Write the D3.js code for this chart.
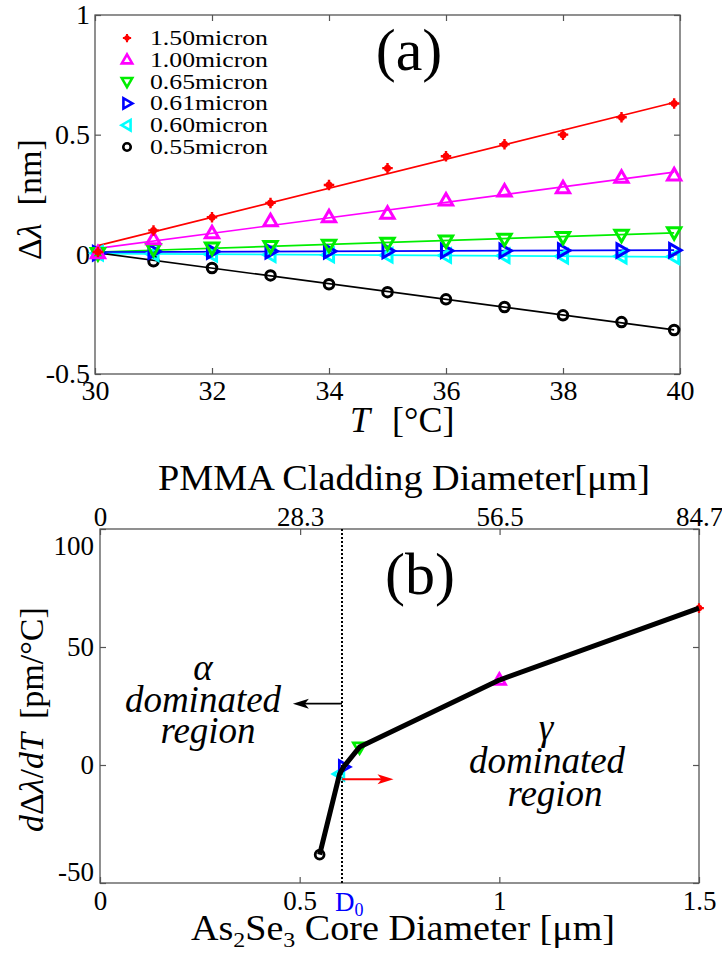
<!DOCTYPE html>
<html>
<head>
<meta charset="utf-8">
<script src="https://cdn.jsdelivr.net/npm/d3@7"></script>
<style>
  html, body { margin: 0; padding: 0; background: #fff; }
  svg { display: block; }
</style>
</head>
<body>
<div id="chart"></div>
<script>
// ---------------- Data: panel (a) ----------------
const temperature = [30.05, 31, 32, 33, 34, 35, 36, 37, 38, 39, 39.9];
const shift150 = [0.01, 0.10, 0.155, 0.215, 0.29, 0.36, 0.41, 0.46, 0.50, 0.573, 0.63];
const shift100 = [0.005, 0.063, 0.088, 0.138, 0.155, 0.17, 0.225, 0.263, 0.276, 0.32, 0.33];
const shift065 = [0.005, 0.022, 0.028, 0.035, 0.04, 0.048, 0.058, 0.065, 0.072, 0.082, 0.092];
const shift061 = [0.005, 0.012, 0.012, 0.013, 0.013, 0.014, 0.015, 0.015, 0.016, 0.016, 0.017];
const shift060 = [0.005, 0.002, 0.0, -0.002, -0.003, -0.004, -0.005, -0.006, -0.008, -0.008, -0.01];
const shift055 = [0.01, -0.029, -0.057, -0.088, -0.125, -0.158, -0.188, -0.22, -0.255, -0.283, -0.316];
const legendLabels = ["1.50micron", "1.00micron", "0.65micron", "0.61micron", "0.60micron", "0.55micron"];
const seriesColors = ["#ff0000", "#ff00ff", "#00ee00", "#0000ff", "#00ffff", "#000000"];
const seriesMarkers = ["star", "up", "down", "right", "left", "circle"];
const aTicksX = [30, 32, 34, 36, 38, 40];
const aTicksY = [-0.5, 0, 0.5, 1];

// ---------------- Data: panel (b) ----------------
const coreDiameter = [0.55, 0.60, 0.61, 0.65, 1.00, 1.50];
const sensitivity = [-38, -3.8, -0.8, 7.6, 36, 66.5];
const pointColors = ["#000000", "#00ffff", "#0000ff", "#00ee00", "#ff00ff", "#ff0000"];
const pointMarkers = ["circle", "left", "right", "down", "up", "star"];
const bTicksX = [0, 0.5, 1, 1.5];
const bTicksY = [-50, 0, 50, 100];
const claddingTicks = [0, 28.3, 56.5, 84.7];
const D0 = 0.606;
const alphaArrow = {y: 26, x0: D0, x1: 0.483};
const gammaArrow = {y: -6, x0: D0, x1: 0.735};

// ---------------- Setup ----------------
const W = 722, H = 953;
const FONT = "Liberation Serif";
const svg = d3.select("#chart").append("svg").attr("width", W).attr("height", H)
  .style("font-family", FONT);
const AXC = "#555";

function markerPath(type, r) {
  const s = r;
  switch (type) {
    case "up":    return `M0,${-s} L${s*0.95},${s*0.65} L${-s*0.95},${s*0.65}Z`;
    case "down":  return `M0,${s} L${s*0.95},${-s*0.65} L${-s*0.95},${-s*0.65}Z`;
    case "right": return `M${s},0 L${-s*0.65},${s*0.95} L${-s*0.65},${-s*0.95}Z`;
    case "left":  return `M${-s},0 L${s*0.65},${s*0.95} L${s*0.65},${-s*0.95}Z`;
  }
  return null;
}
function drawMarker(g, type, color, x, y, r, sw) {
  if (type === "circle") {
    g.append("circle").attr("cx", x).attr("cy", y).attr("r", r*0.68)
      .attr("fill", "none").attr("stroke", color).attr("stroke-width", sw);
  } else if (type === "star") {
    g.append("circle").attr("cx", x).attr("cy", y).attr("r", r*0.5).attr("fill", color);
    g.append("path").attr("d", `M${x-r*0.75},${y} H${x+r*0.75} M${x},${y-r*0.75} V${y+r*0.75}`)
      .attr("stroke", color).attr("stroke-width", sw*0.8);
  } else {
    g.append("path").attr("transform", `translate(${x},${y})`).attr("d", markerPath(type, r))
      .attr("fill", "none").attr("stroke", color).attr("stroke-width", sw)
      .attr("stroke-linejoin", "miter");
  }
}
function txt(g) { return g.append("text").style("font-family", FONT).attr("fill", "#000"); }

// ================= Panel (a) =================
const xa = d3.scaleLinear().domain([30, 40]).range([95, 680]);
const ya = d3.scaleLinear().domain([-0.5, 1]).range([374, 15]);
const ga = svg.append("g");

const fmtA = d => d === -0.5 ? "-0.5" : String(d);
function styleAxis(sel, fs) {
  sel.attr("font-family", null).style("font-family", FONT);
  sel.select(".domain").remove();
  sel.selectAll(".tick line").attr("stroke", AXC).attr("stroke-width", 1.2);
  sel.selectAll(".tick text").attr("font-size", fs).style("font-family", FONT).attr("fill", "#000");
}
ga.append("g").attr("transform", "translate(0,374)")
  .call(d3.axisBottom(xa).tickValues(aTicksX).tickSizeInner(-6).tickSizeOuter(0).tickPadding(6).tickFormat(d3.format("d")))
  .call(s => styleAxis(s, 28));
ga.append("g").attr("transform", "translate(0,15)")
  .call(d3.axisTop(xa).tickValues(aTicksX).tickSizeInner(-6).tickSizeOuter(0).tickFormat(""))
  .call(s => styleAxis(s, 28));
ga.append("g").attr("transform", "translate(95,0)")
  .call(d3.axisLeft(ya).tickValues(aTicksY).tickSizeInner(-6).tickSizeOuter(0).tickPadding(5).tickFormat(fmtA))
  .call(s => styleAxis(s, 28));
ga.append("g").attr("transform", "translate(680,0)")
  .call(d3.axisRight(ya).tickValues(aTicksY).tickSizeInner(-6).tickSizeOuter(0).tickFormat(""))
  .call(s => styleAxis(s, 28));
ga.append("rect").attr("x", 95).attr("y", 15).attr("width", 585).attr("height", 359)
  .attr("fill", "none").attr("stroke", AXC).attr("stroke-width", 1.3);

const seriesA = [shift150, shift100, shift065, shift061, shift060, shift055];
seriesA.forEach((vals, i) => {
  const n = vals.length;
  const mx = d3.mean(temperature), my = d3.mean(vals);
  let sxy = 0, sxx = 0;
  for (let k = 0; k < n; k++) { sxy += (temperature[k]-mx)*(vals[k]-my); sxx += (temperature[k]-mx)**2; }
  const b = sxy / sxx, a = my - b*mx;
  const t0 = temperature[0], t1 = temperature[n-1];
  ga.append("line").attr("x1", xa(t0)).attr("y1", ya(a + b*t0)).attr("x2", xa(t1)).attr("y2", ya(a + b*t1))
    .attr("stroke", seriesColors[i]).attr("stroke-width", 1.7);
});
for (let i = seriesA.length - 1; i >= 0; i--) {
  seriesA[i].forEach((v, k) => drawMarker(ga, seriesMarkers[i], seriesColors[i], xa(temperature[k]), ya(v), 7, 3));
}
const leg = ga.append("g");
legendLabels.forEach((lab, i) => {
  const cy = 38 + i*21.8;
  drawMarker(leg, seriesMarkers[i], seriesColors[i], 127, cy, 5.5, 2.6);
  txt(leg).attr("x", 150).attr("y", cy + 7).attr("font-size", 22)
    .attr("textLength", 118).attr("lengthAdjust", "spacingAndGlyphs").text(lab);
});
txt(ga).attr("x", 409).attr("y", 70).attr("text-anchor", "middle").attr("font-size", 60).text("(a)");
txt(ga).attr("x", 350).attr("y", 432).attr("font-size", 36)
  .call(t => { t.append("tspan").attr("font-style", "italic").text("T");
               t.append("tspan").attr("dx", 22).text("[°C]"); });
txt(ga).attr("transform", "translate(41,260) rotate(-90)").attr("font-size", 34)
  .call(t => { t.append("tspan").text("Δ");
               t.append("tspan").attr("font-style", "italic").text("λ");
               t.append("tspan").attr("dx", 18).text("[nm]"); });

// ================= Panel (b) =================
const xb = d3.scaleLinear().domain([0, 1.5]).range([100, 699]);
const xbTop = d3.scaleLinear().domain([0, 84.7]).range([100, 699]);
const yb = d3.scaleLinear().domain([-50, 100]).range([883, 529]);
const gb = svg.append("g");

gb.append("g").attr("transform", "translate(0,883)")
  .call(d3.axisBottom(xb).tickValues(bTicksX).tickSizeInner(-6).tickSizeOuter(0).tickPadding(8).tickFormat(d => String(d)))
  .call(s => styleAxis(s, 27));
gb.append("g").attr("transform", "translate(0,529)")
  .call(d3.axisTop(xbTop).tickValues(claddingTicks).tickSizeInner(-6).tickSizeOuter(0).tickPadding(3).tickFormat(d => String(d)))
  .call(s => styleAxis(s, 27));
const yAxB = gb.append("g").attr("transform", "translate(100,0)")
  .call(d3.axisLeft(yb).tickValues(bTicksY).tickSizeInner(-6).tickSizeOuter(0).tickPadding(6).tickFormat(d => String(d)))
  .call(s => styleAxis(s, 27));
yAxB.selectAll(".tick text").filter(d => d === 100).attr("dy", "0.95em");
yAxB.selectAll(".tick text").filter(d => d === -50).attr("dy", "-0.08em");
gb.append("g").attr("transform", "translate(699,0)")
  .call(d3.axisRight(yb).tickValues(bTicksY).tickSizeInner(-6).tickSizeOuter(0).tickFormat(""))
  .call(s => styleAxis(s, 27));
gb.append("rect").attr("x", 100).attr("y", 529).attr("width", 599).attr("height", 354)
  .attr("fill", "none").attr("stroke", AXC).attr("stroke-width", 1.3);

gb.append("line").attr("x1", xb(D0)).attr("x2", xb(D0)).attr("y1", yb(100)).attr("y2", yb(-50))
  .attr("stroke", "#000").attr("stroke-width", 2).attr("stroke-dasharray", "2,2");
coreDiameter.forEach((d, i) => drawMarker(gb, pointMarkers[i], pointColors[i], xb(d), yb(sensitivity[i]), 6.5, 2.8));
gb.append("path").datum(coreDiameter.map((d, i) => [d, sensitivity[i]]))
  .attr("d", d3.line().x(p => xb(p[0])).y(p => yb(p[1])))
  .attr("fill", "none").attr("stroke", "#000").attr("stroke-width", 5).attr("stroke-linejoin", "round");
function arrow(g, x0, x1, y, color, sw) {
  const dir = Math.sign(x1 - x0);
  g.append("line").attr("x1", x0).attr("x2", x1 - dir*10).attr("y1", y).attr("y2", y)
    .attr("stroke", color).attr("stroke-width", sw);
  g.append("path").attr("d", `M${x1},${y} L${x1 - dir*16},${y-5} L${x1 - dir*12},${y} L${x1 - dir*16},${y+5}Z`)
    .attr("fill", color);
}
arrow(gb, xb(alphaArrow.x0), xb(alphaArrow.x1), yb(alphaArrow.y), "#000", 1.6);
arrow(gb, xb(gammaArrow.x0), xb(gammaArrow.x1), yb(gammaArrow.y), "#ff0000", 2);

txt(gb).attr("x", 420).attr("y", 594).attr("text-anchor", "middle").attr("font-size", 60).text("(b)");
const annA = gb.append("g").attr("font-style", "italic").attr("text-anchor", "middle").attr("font-size", 37);
txt(annA).attr("x", 203).attr("y", 680).text("α");
txt(annA).attr("x", 203).attr("y", 712).text("dominated");
txt(annA).attr("x", 208).attr("y", 743).text("region");
const annG = gb.append("g").attr("font-style", "italic").attr("text-anchor", "middle").attr("font-size", 37);
txt(annG).attr("x", 546).attr("y", 740).text("γ");
txt(annG).attr("x", 547).attr("y", 773).text("dominated");
txt(annG).attr("x", 555).attr("y", 806).text("region");

txt(gb).attr("x", 335).attr("y", 911).attr("font-size", 27).attr("fill", "#0000ff")
  .call(t => { t.append("tspan").attr("fill", "#0000ff").text("D");
               t.append("tspan").attr("fill", "#0000ff").attr("font-size", 18).attr("dy", 5).text("0"); });

txt(gb).attr("x", 404).attr("y", 490).attr("text-anchor", "middle").attr("font-size", 35)
  .attr("textLength", 492).attr("lengthAdjust", "spacingAndGlyphs").text("PMMA Cladding Diameter[μm]");
txt(gb).attr("x", 191).attr("y", 940).attr("font-size", 35)
  .attr("textLength", 424).attr("lengthAdjust", "spacingAndGlyphs")
  .call(t => { t.append("tspan").text("As");
               t.append("tspan").attr("font-size", 22).attr("dy", 7).text("2");
               t.append("tspan").attr("dy", -7).text("Se");
               t.append("tspan").attr("font-size", 22).attr("dy", 7).text("3");
               t.append("tspan").attr("dy", -7).text(" Core Diameter [μm]"); });
txt(gb).attr("transform", "translate(43,832) rotate(-90)").attr("font-size", 34)
  .call(t => { t.append("tspan").attr("font-style", "italic").text("d");
               t.append("tspan").text("Δ");
               t.append("tspan").attr("font-style", "italic").text("λ");
               t.append("tspan").text("/");
               t.append("tspan").attr("font-style", "italic").text("dT");
               t.append("tspan").attr("dx", 14).text("[pm/°C]"); });
</script>
</body>
</html>
